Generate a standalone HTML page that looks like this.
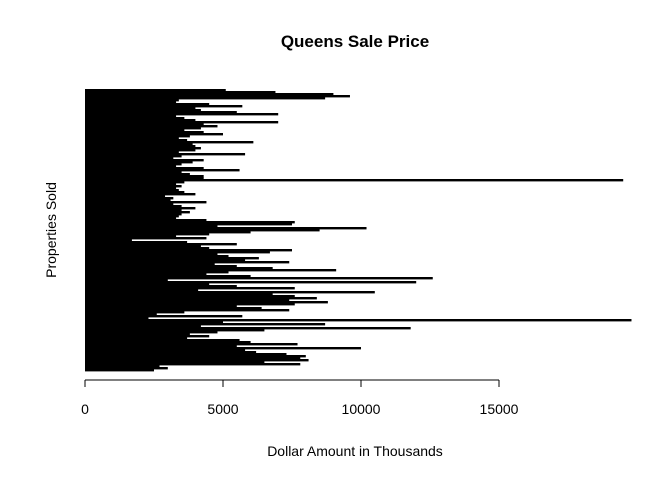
<!DOCTYPE html>
<html><head><meta charset="utf-8"><style>
body{margin:0;background:#fff;}
svg{display:block;font-family:"Liberation Sans",Arial,sans-serif;}
</style></head><body>
<svg id="c" width="672" height="480">
<text x="355" y="47" text-anchor="middle" font-size="17" font-weight="bold">Queens Sale Price</text>
<text x="355" y="456" text-anchor="middle" font-size="14">Dollar Amount in Thousands</text>
<text transform="translate(56,230) rotate(-90)" text-anchor="middle" font-size="14">Properties Sold</text>
<g id="bars"></g>
<g id="axis"></g>
</svg>
<script>
const values = [5100,6900,9000,9600,8700,3400,3300,4500,5700,4000,4200,5500,7000,3300,3600,4000,7000,4300,4800,4200,3600,4300,5000,3800,3400,3700,6100,3900,4000,4200,4000,3400,5800,3500,3200,4300,3900,3500,3300,4300,5600,3500,3800,4300,4300,19500,3600,3300,3500,3300,3400,3600,4000,2900,3200,3100,4400,3200,3500,4000,3500,3800,3500,3400,3300,4400,7600,7500,4800,10200,8500,6000,4500,3300,4400,1700,3700,5500,4200,4500,7500,6700,4800,5200,6300,5800,7400,4700,5500,6800,9100,5200,4400,6000,12600,3000,12000,4500,5500,7600,4100,10500,6800,7600,8400,7400,8800,7600,5500,6400,7400,3600,2600,5700,2300,19800,5000,8700,4200,11800,6500,4800,3800,4500,3700,5600,6000,7700,5500,10000,5800,6200,7300,8000,7800,8100,6500,7800,2700,3000,2500];
const xTicks = [0,5000,10000,15000];
const tickLabels = ["0","5000","10000","15000"];
const ns="http://www.w3.org/2000/svg";
const x0=85, pxPer=138/5000, yTop=89, yBot=371;
const xs=v=>x0+v*pxPer;
const h=(yBot-yTop)/values.length;
const g=document.getElementById('bars');
values.forEach((v,i)=>{
  const r=document.createElementNS(ns,'rect');
  r.setAttribute('x',x0);
  r.setAttribute('y',yTop+i*h);
  r.setAttribute('width',xs(v)-x0);
  r.setAttribute('height',h+0.4);
  r.setAttribute('fill','#000');
  
  
  g.appendChild(r);
});
const a=document.getElementById('axis');
const ln=document.createElementNS(ns,'line');
ln.setAttribute('x1',xs(xTicks[0]));ln.setAttribute('x2',xs(xTicks[xTicks.length-1]));
ln.setAttribute('y1',380);ln.setAttribute('y2',380);ln.setAttribute('stroke','#000');


a.appendChild(ln);
xTicks.forEach((t,i)=>{
  const tk=document.createElementNS(ns,'line');
  tk.setAttribute('x1',xs(t));tk.setAttribute('x2',xs(t));
  tk.setAttribute('y1',380);tk.setAttribute('y2',387);tk.setAttribute('stroke','#000');
  
  
  a.appendChild(tk);
  const tx=document.createElementNS(ns,'text');
  tx.setAttribute('x',xs(t));tx.setAttribute('y',414);
  tx.setAttribute('text-anchor','middle');tx.setAttribute('font-size','14');
  tx.textContent=tickLabels[i];
  
  
  a.appendChild(tx);
});
</script>
</body></html>
